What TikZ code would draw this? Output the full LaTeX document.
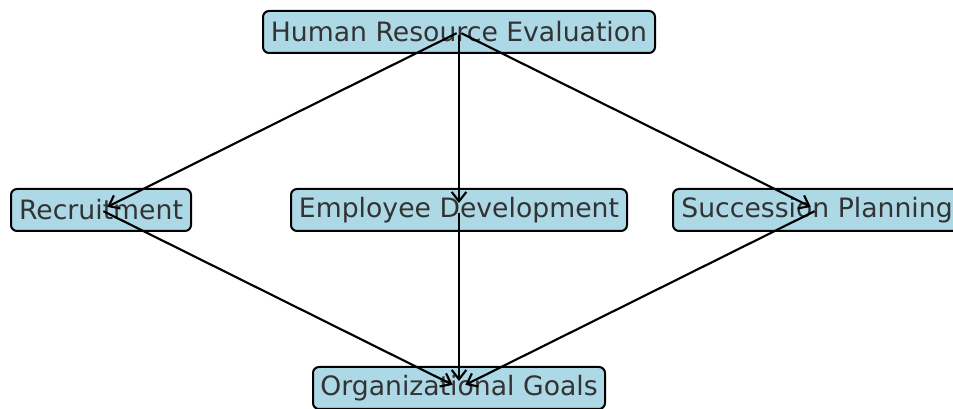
\documentclass[tikz,border=0pt]{standalone}
\usepackage{fontspec}
\setmainfont{DejaVu Sans}
\usetikzlibrary{arrows.meta}
\definecolor{boxfill}{RGB}{173,216,230}
\definecolor{txt}{RGB}{51,51,51}
\tikzset{
  box/.style={draw=black, fill=boxfill, line width=1.5pt, rounded corners=4.5pt,
    minimum height=31.5pt, inner sep=0pt, text=txt,
    font=\fontsize{20}{24}\selectfont},
  link/.style={draw=black, line width=1.6pt,
    -{Straight Barb[length=7pt,width=11pt,line width=1.6pt]},
    shorten >=5.25pt, shorten <=2pt}
}
\begin{document}
\begin{tikzpicture}[x=0.75pt,y=-0.75pt]
\useasboundingbox (0,0) rectangle (953,409);
\node[box, minimum width=294pt] (hre) at (459,32) {Human Resource Evaluation};
\node[box, minimum width=135pt] (rec) at (101,210) {Recruitment};
\node[box, minimum width=252pt] (ed) at (459,210) {Employee Development};
\node[box, minimum width=216pt] (sp) at (817,210) {Succession Planning};
\node[box, minimum width=219pt] (og) at (459,388) {Organizational Goals};
\draw[link] (hre.center) -- (rec.center);
\draw[link] (hre.center) -- (ed.center);
\draw[link] (hre.center) -- (sp.center);
\draw[link] (rec.center) -- (og.center);
\draw[link] (ed.center) -- (og.center);
\draw[link] (sp.center) -- (og.center);
\end{tikzpicture}
\end{document}
